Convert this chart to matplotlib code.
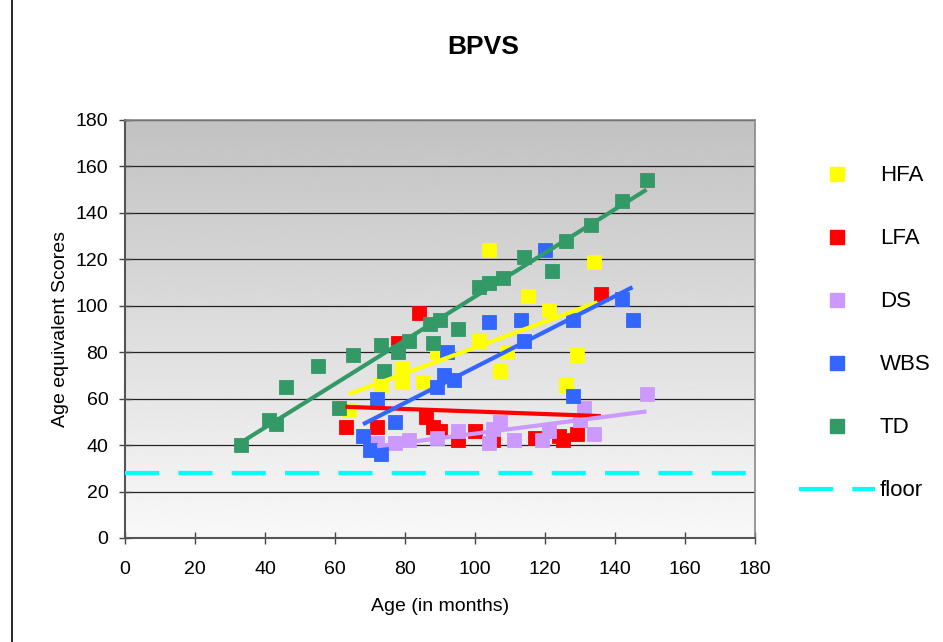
import numpy as np
import matplotlib
matplotlib.use("Agg")
import matplotlib.pyplot as plt
from matplotlib.lines import Line2D

plt.rcParams['font.family'] = ['Liberation Sans', 'DejaVu Sans']

# ---------------- data ----------------
series_names = ["HFA", "LFA", "DS", "WBS", "TD"]
series_colors = ["#FFFF00", "#FF0000", "#CC99FF", "#3366FF", "#339966"]

hfa_x = [64, 73, 79, 79, 85, 89, 101, 104, 107, 109, 115, 121, 126, 129, 134]
hfa_y = [55, 66, 67, 73, 67, 80, 85, 124, 72, 80, 104, 98, 66, 79, 119]

lfa_x = [63, 72, 78, 84, 86, 88, 90, 95, 100, 105, 117, 124, 125, 129, 136]
lfa_y = [48, 48, 84, 97, 52, 48, 46, 42, 46, 42, 43, 44, 42, 45, 105]

ds_x = [72, 77, 81, 89, 95, 104, 105, 107, 111, 119, 121, 130, 131, 134, 149]
ds_y = [41, 41, 42, 43, 46, 41, 47, 50, 42, 42, 46, 51, 56, 45, 62]

wbs_x = [68, 70, 72, 73, 77, 89, 91, 92, 94, 104, 113, 114, 120, 128, 128, 142, 145]
wbs_y = [44, 38, 60, 36, 50, 65, 70, 80, 68, 93, 94, 85, 124, 94, 61, 103, 94]

td_x = [33, 41, 43, 46, 55, 61, 65, 73, 74, 78, 81, 87, 88, 90, 95, 101, 104, 108, 114, 122, 126, 133, 142, 149]
td_y = [40, 51, 49, 65, 74, 56, 79, 83, 72, 80, 85, 92, 84, 94, 90, 108, 110, 112, 121, 115, 128, 135, 145, 154]

# linear trend lines: (x_start, y_start, x_end, y_end)
hfa_trend = [64, 62, 135, 101.5]
lfa_trend = [63, 56.5, 136, 52.5]
ds_trend = [72, 39.5, 149, 54.5]
wbs_trend = [68, 49, 145, 108]
td_trend = [33, 41, 149, 150]

floor_value = 28
x_ticks = [0, 20, 40, 60, 80, 100, 120, 140, 160, 180]
y_ticks = [0, 20, 40, 60, 80, 100, 120, 140, 160, 180]

# ---------------- figure ----------------
W, H = 943, 642
fig = plt.figure(figsize=(W / 100, H / 100), dpi=100)
ax = fig.add_axes([125 / W, 1 - 538 / H, (755 - 125) / W, (538 - 120) / H])

# gradient background (dark at top, light at bottom)
grad = np.linspace(0.76, 0.975, 256).reshape(-1, 1)
ax.imshow(grad, extent=[0, 180, 0, 180], origin='upper', cmap='gray',
          vmin=0, vmax=1, aspect='auto', zorder=0, interpolation='bilinear')
ax.set_xlim(0, 180)
ax.set_ylim(0, 180)

for yv in y_ticks[1:]:
    ax.axhline(yv, color='#222222', lw=0.9, zorder=1)

xs = [hfa_x, lfa_x, ds_x, wbs_x, td_x]
ys = [hfa_y, lfa_y, ds_y, wbs_y, td_y]
trends = [hfa_trend, lfa_trend, ds_trend, wbs_trend, td_trend]

for x, y, c in zip(xs, ys, series_colors):
    ax.plot(x, y, ls='none', marker='s', ms=10.5, color=c,
            mec=c, mew=0.6, zorder=3)

# floor
ax.plot([0, 180], [floor_value, floor_value], color='#00FFFF', lw=3,
        dashes=(8.2, 4.6), zorder=4, dash_capstyle='butt')

for t, c in zip(trends, series_colors):
    ax.plot([t[0], t[2]], [t[1], t[3]], color=c, lw=3, zorder=5,
            solid_capstyle='butt')

ax.set_xticks(x_ticks)
ax.set_yticks(y_ticks)
ax.tick_params(direction='inout', length=8, width=1, color='#444444',
               labelsize=14)
ax.tick_params(axis='y', pad=8)
ax.tick_params(axis='x', pad=12.5)
for s in ['left', 'bottom']:
    ax.spines[s].set_color('#555555')
    ax.spines[s].set_linewidth(1.5)
for s in ['top', 'right']:
    ax.spines[s].set_color('#888888')
    ax.spines[s].set_linewidth(1.2)

ax.set_xlabel("Age (in months)", fontsize=14, labelpad=14.5)
ax.set_ylabel("Age equivalent Scores", fontsize=14, labelpad=4.5)
fig.text(483 / W, 1 - 47 / H, "BPVS", fontsize=19, fontweight='bold',
         ha='center', va='center')

# legend
handles = [Line2D([], [], ls='none', marker='s', ms=10.5, color=c, mec=c)
           for c in series_colors]
handles.append(Line2D([], [], color='#00FFFF', lw=3, dashes=(8.2, 4.6)))
labels = series_names + ["floor"]
fig.legend(handles, labels, loc='upper left',
           bbox_to_anchor=(799 / W, 1 - 165.5 / H), frameon=False,
           fontsize=16, handlelength=3.42, handletextpad=0.22,
           labelspacing=1.89, borderpad=0, borderaxespad=0)

# outer chart frame (left edge)
fig.add_artist(Line2D([12 / W, 12 / W], [0, 1], transform=fig.transFigure,
                      color='black', lw=1.2))

fig.savefig("out.png", dpi=100)
